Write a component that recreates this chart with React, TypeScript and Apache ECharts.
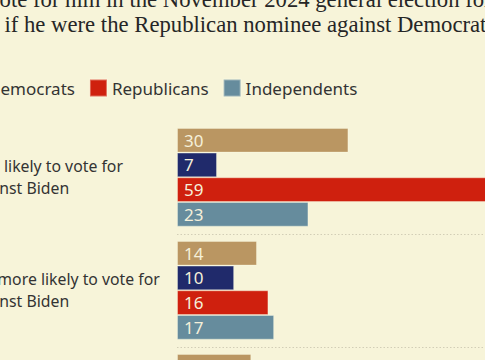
import React, { useEffect, useRef } from "react";
import * as echarts from "echarts";

const categories = [
  "Much more likely to vote for\nTrump against Biden",
  "Somewhat more likely to vote for\nTrump against Biden",
  "Somewhat less likely to vote for\nTrump against Biden",
];
const seriesNames = ["All voters", "Democrats", "Republicans", "Independents"];
const allVoters = [30, 14, 13];
const democrats = [7, 10, null];
const republicans = [59, 16, null];
const independents = [23, 17, null];

const titleLine1 = "Would Trump’s conviction make you more or less likely to vote for him in the November 2024 general election for";
const titleLine1Hidden = "Would Trump’s conviction make you more or less likely to v";
const titleLine2 = "president if he were the Republican nominee against Democrat Joe Biden?";
const titleLine2Hidden = "president ";

const BG = "#F7F4D9";
const COLORS = ["#BA9662", "#202A6B", "#CF200E", "#668C9D"];
const SANS = '"Noto Sans", sans-serif';
const SERIF = '"Liberation Serif", serif';

function measure(text: string, font: string): number {
  const ctx = document.createElement("canvas").getContext("2d")!;
  ctx.font = font;
  return ctx.measureText(text).width;
}

export default function App() {
  const ref = useRef<HTMLDivElement>(null);
  useEffect(() => {
    if (!ref.current) return;
    const chart = echarts.init(ref.current, null, { renderer: "svg" });
    const titleSize = 22.7;
    const legendSize = 17;
    const catSize = 15.8;
    const tFont = `${titleSize}px ${SERIF}`;
    const lFont = `${legendSize}px ${SANS}`;
    const cFont = `${catSize}px ${SANS}`;

    const t1Left = 0 - measure(titleLine1Hidden, tFont);
    const t2Left = 4.5 - measure(titleLine2Hidden, tFont);
    const demStart = -1.5 - measure("D", lFont);
    const legendLeft = demStart - 5 - 17 - 14 - measure(seriesNames[0], lFont) - 5 - 17;
    const catStart = 4 - measure("Much more ", cFont);
    const catMargin = 177 - catStart;

    const data = [allVoters, democrats, republicans, independents];
    const series = seriesNames.map((name, i) => ({
      name,
      type: "bar",
      data: data[i],
      barGap: "0%",
      barCategoryGap: "12.6%",
      itemStyle: {
        color: COLORS[i],
        borderColor: "rgba(255,255,235,0.35)",
        borderWidth: 1,
      },
      label: {
        show: true,
        position: "insideLeft",
        distance: 7,
        color: "#F5F0DA",
        fontFamily: SANS,
        fontSize: 17,
      },
    }));

    chart.setOption({
      animation: false,
      backgroundColor: BG,
      title: [
        {
          text: titleLine1,
          left: t1Left,
          top: -13,
          padding: 0,
          textStyle: { fontFamily: SERIF, fontSize: titleSize, fontWeight: "normal", color: "#262626", lineHeight: 24 },
        },
        {
          text: titleLine2,
          left: t2Left,
          top: 12.5,
          padding: 0,
          textStyle: { fontFamily: SERIF, fontSize: titleSize, fontWeight: "normal", color: "#262626", lineHeight: 24 },
        },
      ],
      legend: {
        data: seriesNames,
        left: legendLeft,
        top: 78.5,
        padding: 0,
        itemWidth: 17,
        itemHeight: 17,
        itemGap: 14,
        icon: "rect",
        selectedMode: false,
        textStyle: { fontFamily: SANS, fontSize: legendSize, color: "#333333" },
      },
      grid: {
        left: 177,
        top: 120.8,
        width: 400,
        height: 113 * categories.length,
        containLabel: false,
        outerBoundsMode: "none",
      },
      xAxis: { type: "value", min: 0, max: 70, show: false },
      yAxis: {
        type: "category",
        data: categories,
        inverse: true,
        axisLine: { show: false },
        axisTick: { show: false },
        axisLabel: {
          align: "left",
          margin: catMargin,
          fontFamily: SANS,
          fontSize: catSize,
          lineHeight: 22,
          color: "#333333",
        },
        splitLine: {
          show: true,
          showMinLine: false,
          lineStyle: { type: [1.5, 2], color: "#D2CEB6", width: 1 },
        },
      },
      series,
    });
    return () => chart.dispose();
  }, []);
  return (
    <div style={{ position: "fixed", left: 0, top: 0, width: 485, height: 360, overflow: "hidden", background: BG }}>
      <div ref={ref} style={{ width: 485, height: 360 }} />
    </div>
  );
}
